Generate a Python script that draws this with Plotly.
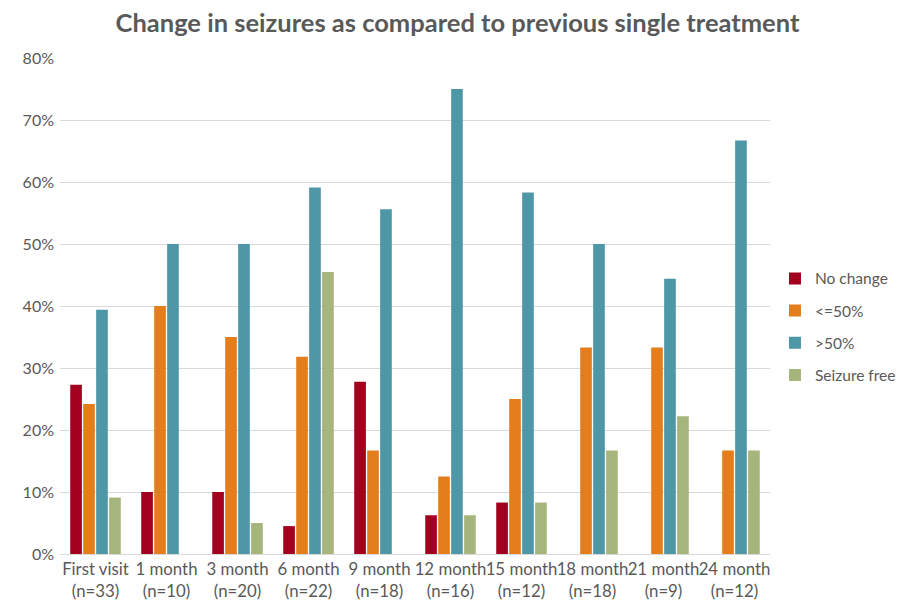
import plotly.graph_objects as go

categories = ["First visit<br>(n=33)", "1 month<br>(n=10)", "3 month<br>(n=20)", "6 month<br>(n=22)",
              "9 month<br>(n=18)", "12 month<br>(n=16)", "15 month<br>(n=12)", "18 month<br>(n=18)",
              "21 month<br>(n=9)", "24 month<br>(n=12)"]
no_change = [0.273, 0.10, 0.10, 0.045, 0.278, 0.0625, 0.083, 0, 0, 0]
le50 = [0.242, 0.40, 0.35, 0.318, 0.167, 0.125, 0.25, 0.333, 0.333, 0.167]
gt50 = [0.394, 0.50, 0.50, 0.591, 0.556, 0.75, 0.583, 0.50, 0.444, 0.667]
seizure_free = [0.091, 0, 0.05, 0.455, 0, 0.0625, 0.083, 0.167, 0.222, 0.167]
series_names = ["No change", "<=50%", ">50%", "Seizure free"]
colors = ["#A2001E", "#E47D1C", "#4E97A6", "#A6B57B"]

fig = go.Figure()
for name, vals, c in zip(series_names, [no_change, le50, gt50, seizure_free], colors):
    fig.add_trace(go.Bar(x=categories, y=vals, name=name, marker_color=c, marker_line_width=0,
                         legendgroup=name))

fig.update_layout(
    width=899, height=600,
    paper_bgcolor="white", plot_bgcolor="white",
    font=dict(family="Lato, Open Sans, sans-serif", color="#595959", size=16),
    title=dict(text="<b>Change in seizures as compared to previous single treatment</b>",
               x=0.5, xanchor="center", y=0.99, yanchor="top",
               font=dict(size=25.5, color="#595959", family="Lato, Open Sans, sans-serif")),
    margin=dict(l=52, r=137, t=50, b=54, autoexpand=False),
    barmode="group", bargap=0.27, bargroupgap=0.1,
    legend=dict(x=1.007, y=0.589, xanchor="left", yanchor="top",
                font=dict(size=15.5, color="#595959"), tracegroupgap=9,
                traceorder="grouped", itemwidth=30),
    showlegend=True,
)
fig.update_yaxes(range=[0, 0.8], dtick=0.1, tickformat=".0%", showgrid=True,
                 gridcolor="#D9D9D9", gridwidth=1, zeroline=False, showline=False,
                 ticks="", ticklen=0, ticklabelstandoff=5,
                 tickfont=dict(size=16, color="#595959"), automargin=False)
fig.update_xaxes(showline=True, linecolor="#D9D9D9", linewidth=1, ticks="", tickangle=0,
                 tickfont=dict(size=16.8, color="#595959"), automargin=False)

fig.write_html("out.html")
